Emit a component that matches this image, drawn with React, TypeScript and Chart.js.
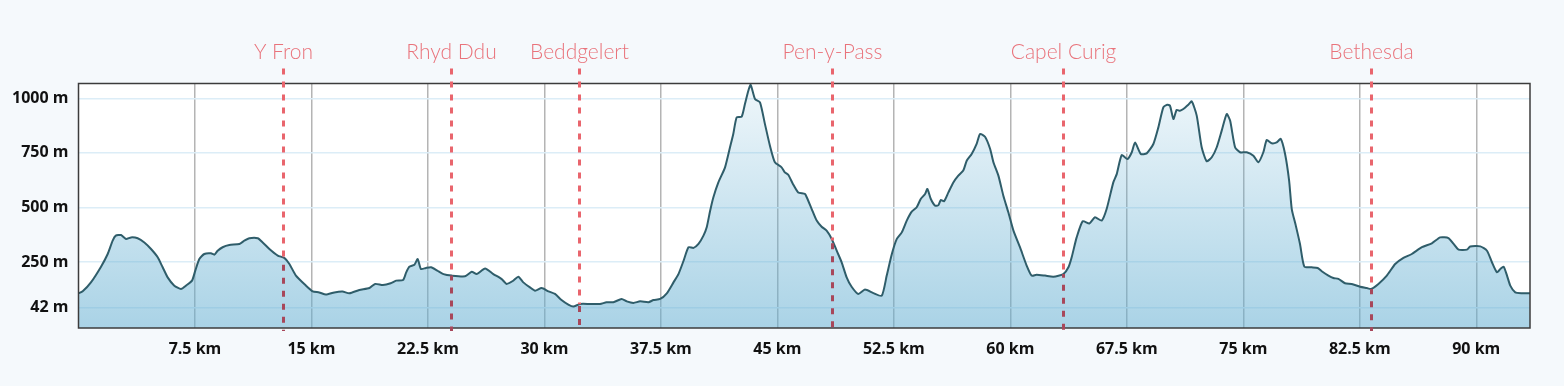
import React, { useEffect, useRef } from "react";
import { Chart, registerables } from "chart.js";

Chart.register(...registerables);

const distanceKm = [
  0, 0.27, 0.8, 1.45, 1.88, 2.2, 2.4, 2.74, 3.06, 3.38, 3.81, 4.24, 4.67, 5.1, 5.42, 5.74, 6.17, 6.6, 6.92, 7.31,
  7.52, 7.78, 8.1, 8.53, 8.75, 8.96, 9.28, 9.71, 10.36, 10.68, 11.0, 11.54, 11.86, 12.29, 12.83, 13.25, 13.58, 14.0, 14.65, 15.08,
  15.5, 15.93, 16.47, 17.0, 17.44, 18.08, 18.73, 19.1, 19.6, 20.1, 20.45, 20.9, 21.1, 21.3, 21.63, 21.84, 22.05, 22.37, 22.7, 23.1,
  23.5, 24.03, 24.89, 25.32, 25.64, 26.18, 26.71, 27.25, 27.57, 28.0, 28.32, 28.64, 29.07, 29.4, 29.82, 30.26, 30.68, 31.1, 31.54, 31.86,
  32.29, 32.93, 33.58, 34.0, 34.44, 34.97, 35.3, 35.73, 36.16, 36.7, 37.02, 37.45, 37.88, 38.31, 38.63, 38.96, 39.28, 39.6, 39.92, 40.24,
  40.45, 40.67, 40.88, 41.2, 41.63, 41.95, 42.16, 42.38, 42.7, 42.91, 43.13, 43.28, 43.56, 43.88, 44.2, 44.52, 44.84, 45.27, 45.48, 45.7,
  46.0, 46.34, 46.77, 46.89, 47.21, 47.53, 47.85, 48.17, 48.5, 48.82, 49.14, 49.46, 49.78, 50.21, 50.64, 51.18, 51.72, 52.04, 52.37, 52.69,
  53.01, 53.33, 53.65, 53.97, 54.23, 54.51, 54.66, 54.88, 55.16, 55.37, 55.52, 55.73, 56.01, 56.33, 56.65, 56.97, 57.19, 57.51, 57.83, 58.05,
  58.37, 58.7, 58.91, 59.23, 59.55, 59.87, 60.2, 60.62, 61.05, 61.37, 61.69, 62.23, 62.77, 63.41, 63.74, 63.95, 64.27, 64.66, 65.09, 65.45,
  65.88, 66.2, 66.63, 66.85, 67.17, 67.54, 67.82, 68.03, 68.4, 68.78, 69.21, 69.53, 69.85, 70.1, 70.28, 70.5, 70.71, 70.92, 71.14, 71.46,
  71.68, 72.0, 72.32, 72.64, 72.97, 73.29, 73.61, 73.93, 74.15, 74.47, 74.79, 75.22, 75.65, 75.97, 76.29, 76.51, 76.83, 77.15, 77.41, 77.69,
  77.95, 78.12, 78.38, 78.65, 78.93, 79.4, 79.79, 80.05, 80.48, 80.8, 81.12, 81.55, 81.98, 82.52, 82.95, 83.23, 83.7, 84.24, 84.78, 85.31,
  85.85, 86.5, 87.14, 87.68, 88.21, 88.54, 88.86, 89.4, 89.61, 90.26, 90.69, 91.01, 91.33, 91.55, 91.76, 91.98, 92.19, 92.51, 92.94, 93.46,
];

const elevationM = [
  107, 116, 157, 229, 287, 348, 371, 374, 356, 363, 359, 340, 310, 272, 226, 180, 142, 127, 142, 165,
  211, 264, 287, 290, 284, 302, 318, 328, 333, 348, 359, 359, 340, 310, 280, 269, 241, 188, 142, 116,
  111, 101, 111, 115, 107, 122, 131, 150, 145, 153, 165, 168, 203, 229, 238, 264, 218, 223, 226, 211,
  195, 188, 185, 206, 195, 221, 195, 172, 150, 165, 183, 157, 134, 119, 131, 116, 104, 76, 55, 46,
  58, 58, 58, 66, 66, 81, 70, 63, 70, 66, 76, 81, 107, 157, 195, 256, 318, 315, 333, 371,
  409, 485, 547, 615, 684, 776, 837, 913, 916, 974, 1035, 1062, 997, 982, 882, 783, 707, 684, 661, 650,
  608, 569, 562, 547, 493, 440, 412, 394, 356, 302, 249, 180, 137, 104, 124, 108, 96, 188, 287, 356,
  386, 440, 481, 501, 539, 562, 585, 539, 508, 511, 534, 528, 569, 615, 646, 669, 714, 745, 791, 837,
  824, 768, 707, 646, 554, 478, 394, 318, 234, 188, 192, 188, 183, 195, 226, 272, 363, 437, 427, 455,
  440, 493, 615, 653, 740, 722, 753, 798, 745, 748, 791, 867, 959, 971, 966, 905, 947, 943, 951, 971,
  986, 921, 776, 712, 730, 776, 852, 928, 898, 776, 753, 753, 737, 707, 753, 809, 794, 798, 814, 745,
  623, 493, 417, 333, 229, 226, 223, 208, 188, 177, 173, 153, 150, 137, 131, 127, 150, 188, 241, 269,
  287, 318, 336, 363, 360, 333, 307, 307, 321, 322, 302, 249, 203, 218, 229, 188, 142, 111, 107, 107,
];

const xTickValues = [7.5, 15, 22.5, 30, 37.5, 45, 52.5, 60, 67.5, 75, 82.5, 90];
const yTickValues = [42, 250, 500, 750, 1000];

const placeNames = ["Y Fron", "Rhyd Ddu", "Beddgelert", "Pen-y-Pass", "Capel Curig", "Bethesda"];
const placeKm = [13.19, 23.99, 32.25, 48.54, 63.41, 83.23];

function elevationAt(km: number): number {
  for (let i = 1; i < distanceKm.length; i++) {
    if (km <= distanceKm[i]) {
      const t = (km - distanceKm[i - 1]) / (distanceKm[i] - distanceKm[i - 1]);
      return elevationM[i - 1] + t * (elevationM[i] - elevationM[i - 1]);
    }
  }
  return elevationM[elevationM.length - 1];
}

const backgroundPlugin = {
  id: "bgPlugin",
  beforeDraw(chart: any) {
    const { ctx, chartArea } = chart;
    ctx.save();
    ctx.fillStyle = "#f5f9fc";
    ctx.fillRect(0, 0, chart.width, chart.height);
    ctx.fillStyle = "#ffffff";
    ctx.fillRect(chartArea.left, chartArea.top, chartArea.right - chartArea.left, chartArea.bottom - chartArea.top);
    ctx.restore();
  },
};

const overlayPlugin = {
  id: "overlayPlugin",
  afterDatasetsDraw(chart: any) {
    const { ctx, chartArea, scales } = chart;
    ctx.save();
    ctx.strokeStyle = "#3c3c3c";
    ctx.lineWidth = 1.5;
    ctx.strokeRect(chartArea.left, chartArea.top, chartArea.right - chartArea.left, chartArea.bottom - chartArea.top);

    ctx.lineWidth = 3;
    ctx.setLineDash([6, 7]);
    ctx.font = '300 21px "Lato", sans-serif';
    ctx.textAlign = "center";
    ctx.textBaseline = "middle";
    placeKm.forEach((km, i) => {
      const x = Math.round(scales.x.getPixelForValue(km)) + 0.5;
      const yCurve = scales.y.getPixelForValue(elevationAt(km));
      const y0 = chartArea.top - 15;
      const y1 = chartArea.bottom + 3;
      ctx.lineDashOffset = 0;
      ctx.strokeStyle = "#e9656d";
      ctx.beginPath();
      ctx.moveTo(x, y0);
      ctx.lineTo(x, yCurve);
      ctx.stroke();
      ctx.lineDashOffset = -(yCurve - y0);
      ctx.strokeStyle = "#a8475a";
      ctx.beginPath();
      ctx.moveTo(x, yCurve);
      ctx.lineTo(x, y1);
      ctx.stroke();
      ctx.fillStyle = "#e9737b";
      ctx.fillText(placeNames[i], x, chartArea.top - 31);
    });
    ctx.restore();
  },
};

export default function App() {
  const canvasRef = useRef<HTMLCanvasElement | null>(null);

  useEffect(() => {
    document.body.style.margin = "0";
    document.body.style.background = "#f5f9fc";
    const canvas = canvasRef.current;
    if (!canvas) return;
    const points = distanceKm.map((x, i) => ({ x, y: elevationM[i] }));
    const tickFont = { family: '"Open Sans", sans-serif', size: 16, weight: "bold" as const };
    const chart = new Chart(canvas, {
      type: "line",
      data: {
        datasets: [
          {
            data: points,
            borderColor: "#2f5d6a",
            borderWidth: 2,
            pointRadius: 0,
            tension: 0.2,
            fill: "start",
            backgroundColor: (c: any) => {
              const area = c.chart.chartArea;
              if (!area) return "rgba(100,175,210,0.3)";
              const g = c.chart.ctx.createLinearGradient(0, area.top, 0, area.bottom);
              g.addColorStop(0, "rgba(100,175,210,0.10)");
              g.addColorStop(1, "rgba(100,175,210,0.55)");
              return g;
            },
          },
        ],
      },
      options: {
        responsive: false,
        animation: false,
        layout: { padding: { top: 83.5, right: 34, left: 0, bottom: 0 } },
        plugins: { legend: { display: false }, tooltip: { enabled: false } },
        scales: {
          x: {
            type: "linear",
            min: 0,
            max: 93.46,
            afterBuildTicks: (s: any) => {
              s.ticks = xTickValues.map((v) => ({ value: v }));
            },
            afterFit: (s: any) => {
              s.height = 58;
            },
            border: { display: false },
            grid: { color: "#b4b4b4", lineWidth: 1.5, drawTicks: false },
            ticks: {
              autoSkip: false,
              maxRotation: 0,
              padding: 12,
              color: "#111111",
              font: tickFont,
              callback: (v: any) => `${v} km`,
            },
          },
          y: {
            type: "linear",
            min: -52,
            max: 1068,
            afterBuildTicks: (s: any) => {
              s.ticks = yTickValues.map((v) => ({ value: v }));
            },
            afterFit: (s: any) => {
              s.width = 78.5;
            },
            border: { display: false },
            grid: { color: "#dcedf7", lineWidth: 1.5, drawTicks: false },
            ticks: {
              padding: 10,
              color: "#111111",
              font: tickFont,
              callback: (v: any) => `${v} m`,
            },
          },
        },
      },
      plugins: [backgroundPlugin, overlayPlugin],
    });
    return () => chart.destroy();
  }, []);

  return (
    <div style={{ width: 1564, height: 386, background: "#f5f9fc" }}>
      <canvas ref={canvasRef} width={1564} height={386} style={{ display: "block" }} />
    </div>
  );
}
